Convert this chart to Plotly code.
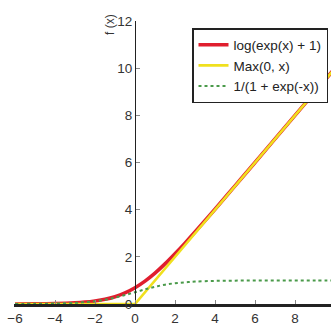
import plotly.graph_objects as go

x_vals = [-6, -5, -4, -3, -2.5, -2, -1.5, -1, -0.5, 0, 0.5, 1, 1.5, 2, 2.5, 3, 4, 5, 6, 7, 8, 9, 10]
softplus_vals = [0.00, 0.01, 0.02, 0.05, 0.08, 0.13, 0.20, 0.31, 0.47, 0.69, 0.97, 1.31, 1.70, 2.13, 2.58, 3.05, 4.02, 5.01, 6.00, 7.00, 8.00, 9.00, 10.00]
relu_x = [-6, 0, 10]
relu_vals = [0, 0, 10]
sigmoid_vals = [0.00, 0.01, 0.02, 0.05, 0.08, 0.12, 0.18, 0.27, 0.38, 0.50, 0.62, 0.73, 0.82, 0.88, 0.92, 0.95, 0.98, 0.99, 1.00, 1.00, 1.00, 1.00, 1.00]
x_ticks = [-6, -4, -2, 0, 2, 4, 6, 8, 10]
y_ticks = [0, 2, 4, 6, 8, 10, 12]
names = ["log(exp(x) + 1)", "Max(0, x)", "1/(1 + exp(-x))"]

FONT = "Liberation Sans, Arial, sans-serif"

fig = go.Figure()
fig.add_trace(go.Scatter(x=x_vals, y=softplus_vals, mode="lines", name=names[0],
                         line=dict(color="#e01e2e", width=3.6, shape="spline")))
fig.add_trace(go.Scatter(x=relu_x, y=relu_vals, mode="lines", name=names[1],
                         line=dict(color="#f0e01e", width=2.6)))
fig.add_trace(go.Scatter(x=x_vals, y=sigmoid_vals, mode="lines", name=names[2],
                         line=dict(color="#4a9a4a", width=2, dash="dot", shape="spline")))

W, H = 331, 334
ml, mr, mt, mb = 14, 0, 21, 30
x0, x1 = -6.05, 9.8
fig.update_layout(
    width=W, height=H,
    margin=dict(l=ml, r=mr, t=mt, b=mb, autoexpand=False),
    paper_bgcolor="white", plot_bgcolor="white",
    font=dict(family=FONT, size=13, color="#333333"),
    showlegend=True,
    legend=dict(xref="container", yref="container", x=328 / W, y=1 - 28 / H,
                xanchor="right", yanchor="top",
                bgcolor="white", bordercolor="#222222", borderwidth=1.5,
                font=dict(family=FONT, size=13.5, color="#222222"),
                itemwidth=30, tracegroupgap=0),
    xaxis=dict(range=[x0, x1], tickvals=x_ticks, ticktext=[str(v).replace("-", "\u2212") for v in x_ticks],
               showgrid=False, zeroline=False, showline=True, linecolor="#222222", linewidth=2.5,
               ticks="inside", ticklen=4, tickcolor="#888888", tickfont=dict(size=13.5),
               automargin=False, fixedrange=True),
    yaxis=dict(range=[0, 12], tickvals=y_ticks, showgrid=False, zeroline=False,
               showline=True, linecolor="#222222", linewidth=1.2,
               anchor="free", position=(0 - x0) / (x1 - x0),
               ticks="inside", ticklen=4, tickcolor="#888888", tickfont=dict(size=13.5),
               automargin=False, fixedrange=True),
)
fig.add_annotation(text="f (x)", xref="paper", yref="paper", x=(110 - ml) / (W - ml - mr), y=1.03,
                   textangle=-90, showarrow=False, font=dict(size=12, color="#333333"),
                   xanchor="center", yanchor="top")
fig.write_html("out.html", config={"displayModeBar": False},
               post_script="document.body.style.margin='0';document.body.style.overflow='hidden';")
